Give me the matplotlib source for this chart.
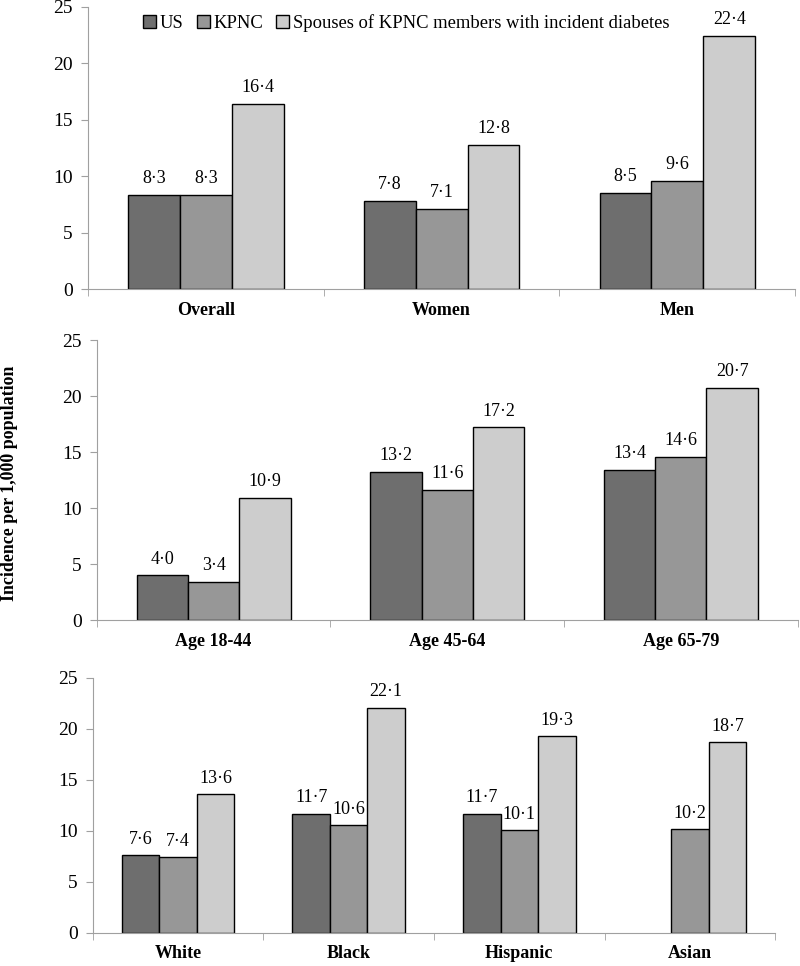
import matplotlib.pyplot as plt
import numpy as np

plt.rcParams["font.family"] = ["Liberation Serif", "DejaVu Serif"]

series = ["US", "KPNC", "Spouses of KPNC members with incident diabetes"]
colors = ["#6e6e6e", "#979797", "#cdcdcd"]

sex_groups = ["Overall", "Women", "Men"]
sex_us = [8.3, 7.8, 8.5]
sex_kpnc = [8.3, 7.1, 9.6]
sex_spouse = [16.4, 12.8, 22.4]

age_groups = ["Age 18-44", "Age 45-64", "Age 65-79"]
age_us = [4.0, 13.2, 13.4]
age_kpnc = [3.4, 11.6, 14.6]
age_spouse = [10.9, 17.2, 20.7]

race_groups = ["White", "Black", "Hispanic", "Asian"]
race_us = [7.6, 11.7, 11.7, np.nan]
race_kpnc = [7.4, 10.6, 10.1, 10.2]
race_spouse = [13.6, 22.1, 19.3, 18.7]

fig = plt.figure(figsize=(8, 9.66), dpi=100)

panels = [
    ([0.110, 0.7008, 0.884, 0.292], sex_groups, [sex_us, sex_kpnc, sex_spouse]),
    ([0.121, 0.358, 0.876, 0.290], age_groups, [age_us, age_kpnc, age_spouse]),
    ([0.116, 0.0342, 0.853, 0.264], race_groups, [race_us, race_kpnc, race_spouse]),
]

axes = []
for rect, groups, data in panels:
    ax = fig.add_axes(rect)
    n = len(groups)
    x = np.arange(n)
    w = 0.22
    for i, vals in enumerate(data):
        pos = x + (i - 1) * w
        ax.bar(pos, vals, width=w, color=colors[i], edgecolor="black",
               linewidth=1.0, label=series[i])
        for p, v in zip(pos, vals):
            if not np.isnan(v):
                ax.text(p, v + 0.7, f"{v:.1f}".replace(".", "\u00b7"),
                        ha="center", va="bottom", fontsize=13)
    ax.set_xlim(-0.5, n - 0.5)
    ax.set_ylim(0, 25)
    ax.set_yticks([0, 5, 10, 15, 20, 25])
    ax.set_xticks(x)
    ax.set_xticklabels(groups, fontweight="bold", fontsize=13)
    ax.set_xticks(np.arange(n + 1) - 0.5, minor=True)
    ax.tick_params(axis="x", which="major", length=0, pad=9)
    ax.tick_params(axis="x", which="minor", length=5, color="#a0a0a0")
    ax.tick_params(axis="y", length=5, color="#a0a0a0", labelsize=14, pad=6)
    for s in ["top", "right"]:
        ax.spines[s].set_visible(False)
    for s in ["left", "bottom"]:
        ax.spines[s].set_color("#a0a0a0")
    axes.append(ax)

axes[0].legend(loc="upper center", bbox_to_anchor=(0.45, 1.035), ncol=3,
               frameon=False, fontsize=13.4, handlelength=0.7,
               handleheight=0.7, handletextpad=0.2, columnspacing=0.7)

fig.text(0.012, 0.5, "Incidence per 1,000 population", rotation=90,
         ha="center", va="center", fontweight="bold", fontsize=12.9)

fig.savefig("out.png", dpi=100)
